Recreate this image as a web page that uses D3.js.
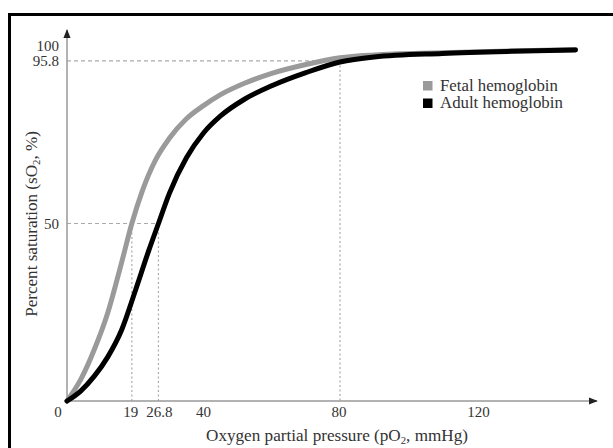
<!DOCTYPE html>
<html><head><meta charset="utf-8">
<script src="https://cdn.jsdelivr.net/npm/d3@7"></script>
<style>body{margin:0;background:#fff}svg{display:block}text{font-family:"Liberation Serif","Times New Roman",serif;fill:#333}</style>
</head><body>
<svg id="c" width="613" height="448"></svg>
<script>
const fetalPO2 = [0, 4, 8, 12, 16, 19, 22, 26, 30, 35, 40, 45, 52, 60, 70, 80, 90, 110, 130, 149];
const fetalSat = [0, 6, 14.5, 25, 39, 50, 59, 68, 74, 79.5, 83.2, 86.3, 89.5, 92.3, 94.8, 96.7, 97.5, 98.1, 98.6, 99];
const adultPO2 = [0, 4, 8, 12, 16, 20, 24, 26.8, 30, 35, 40, 45, 52, 60, 70, 80, 90, 110, 130, 149];
const adultSat = [0, 2.8, 7, 12.5, 20, 31, 42.5, 50, 58.5, 68.5, 75.5, 80.3, 85, 88.8, 92.5, 95.5, 96.9, 97.9, 98.5, 98.9];
const xTicks = [0, 19, 26.8, 40, 80, 120];
const yTicks = [50, 95.8, 100];
const seriesNames = ["Fetal hemoglobin", "Adult hemoglobin"];
const seriesColors = ["#9a9a9a", "#000000"];

const svg = d3.select("#c");
const x = d3.scaleLinear().domain([0, 80]).range([67, 340]);
const y = d3.scaleLinear().domain([0, 100]).range([401, 46]);

// stretch a text horizontally (in its own frame) to a target width
function fit(sel, target) {
  const n = sel.node();
  const w = n.getComputedTextLength();
  const ax = +sel.attr("x"), ay = +sel.attr("y");
  const s = target / w;
  const base = sel.attr("data-base") || "";
  sel.attr("transform", `${base} translate(${ax},${ay}) scale(${s},1) translate(${-ax},${-ay})`);
}

// frame
svg.append("rect").attr("x", 9.5).attr("y", 14.5).attr("width", 640).attr("height", 460)
  .attr("fill", "none").attr("stroke", "#000").attr("stroke-width", 3);

// dashed guides
const g = svg.append("g").attr("stroke", "#aaa").attr("stroke-width", 1.2).attr("fill", "none");
g.append("line").attr("x1", x(0)).attr("x2", x(80)).attr("y1", y(95.8)).attr("y2", y(95.8)).attr("stroke-dasharray", "4,3");
g.append("line").attr("x1", x(80)).attr("x2", x(80)).attr("y1", y(95.8)).attr("y2", y(0)).attr("stroke-dasharray", "2,2.5");
g.append("line").attr("x1", x(0)).attr("x2", x(26.8)).attr("y1", y(50)).attr("y2", y(50)).attr("stroke-dasharray", "4,3");
g.append("line").attr("x1", x(19)).attr("x2", x(19)).attr("y1", y(50)).attr("y2", y(0)).attr("stroke-dasharray", "2,2.5");
g.append("line").attr("x1", x(26.8)).attr("x2", x(26.8)).attr("y1", y(50)).attr("y2", y(0)).attr("stroke-dasharray", "2,2.5");

// axes
const defs = svg.append("defs");
defs.append("marker").attr("id", "ar").attr("viewBox", "0 0 10 10").attr("refX", 9).attr("refY", 5)
  .attr("markerWidth", 9).attr("markerHeight", 9).attr("markerUnits", "userSpaceOnUse").attr("orient", "auto")
  .append("path").attr("d", "M0,1 L10,5 L0,9 Z").attr("fill", "#222");
svg.append("line").attr("x1", x(0)).attr("x2", 597).attr("y1", y(0)).attr("y2", y(0))
  .attr("stroke", "#999").attr("stroke-width", 1.5).attr("marker-end", "url(#ar)");
svg.append("line").attr("x1", x(0)).attr("x2", x(0)).attr("y1", y(0)).attr("y2", 30)
  .attr("stroke", "#999").attr("stroke-width", 1.5).attr("marker-end", "url(#ar)");

// curves
const line = d3.line().x(d => x(d[0])).y(d => y(d[1])).curve(d3.curveMonotoneX);
const fetal = fetalPO2.map((p, i) => [p, fetalSat[i]]);
const adult = adultPO2.map((p, i) => [p, adultSat[i]]);
svg.append("path").attr("d", line(fetal)).attr("fill", "none").attr("stroke", seriesColors[0]).attr("stroke-width", 5).attr("stroke-linecap", "round");
svg.append("path").attr("d", line(adult)).attr("fill", "none").attr("stroke", seriesColors[1]).attr("stroke-width", 5).attr("stroke-linecap", "round");

// tick labels
const xOff = {0: -9, 19: -1, 26.8: 1, 40: 0, 80: -1, 120: 2};
svg.append("g").selectAll("text").data(xTicks).join("text")
  .attr("x", d => x(d) + xOff[d]).attr("y", 417).attr("text-anchor", "middle").attr("font-size", 15)
  .text(d => d);
const yPos = {50: y(50) + 5, 95.8: y(95.8) + 5, 100: y(100) + 5};
svg.append("g").selectAll("text").data(yTicks).join("text")
  .attr("x", 59).attr("y", d => yPos[d]).attr("text-anchor", "end").attr("font-size", 15)
  .text(d => d);

// axis titles
const xt = svg.append("text").attr("x", 337).attr("y", 441).attr("text-anchor", "middle").attr("font-size", 16);
xt.append("tspan").text("Oxygen partial pressure (pO");
xt.append("tspan").attr("font-size", 10).attr("dy", 3).text("2");
xt.append("tspan").attr("dy", -3).text(", mmHg)");
fit(xt, 262);
const yt = svg.append("text").attr("x", 0).attr("y", 0).attr("data-base", "translate(37,224) rotate(-90)")
  .attr("text-anchor", "middle").attr("font-size", 16);
yt.append("tspan").text("Percent saturation (sO");
yt.append("tspan").attr("font-size", 10).attr("dy", 3).text("2");
yt.append("tspan").attr("dy", -3).text(", %)");
fit(yt, 186);

// legend
const legendW = [118, 123];
const lg = svg.append("g").selectAll("g").data(seriesNames).join("g")
  .attr("transform", (d, i) => `translate(423,${81 + i * 17.5})`);
lg.append("rect").attr("width", 9.5).attr("height", 9.5).attr("fill", (d, i) => seriesColors[i]);
lg.append("text").attr("x", 17).attr("y", 9.5).attr("font-size", 16).text(d => d)
  .each(function(d, i) { fit(d3.select(this), legendW[i]); });
</script>
</body></html>
